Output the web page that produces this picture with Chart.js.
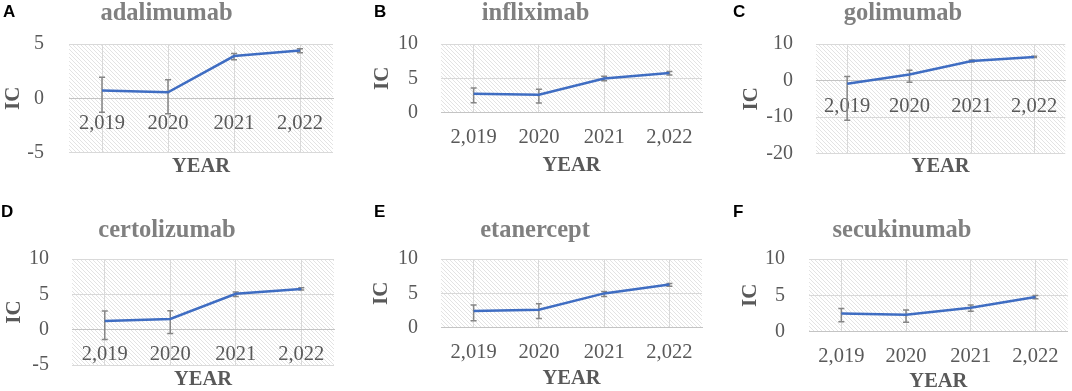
<!DOCTYPE html>
<html>
<head>
<meta charset="utf-8">
<title>IC by year</title>
<script src="https://cdn.jsdelivr.net/npm/chart.js@4.4.1/dist/chart.umd.min.js"></script>
<style>
  html, body { margin: 0; padding: 0; background: #fff; overflow: hidden; }
  #page { position: relative; width: 1072px; height: 391px; overflow: hidden; }
  #page canvas { position: absolute; }
  .letter { position: absolute; font: bold 17px/17px 'Liberation Sans', Arial, sans-serif; color: #000; }
</style>
</head>
<body>
<div id="page"></div>
<script>
// x labels as printed on the original figure
const years = ['2,019', '2020', '2021', '2,022'];

// IC per year, with the ends of each error bar
const adalimumabIC   = [0.72, 0.55, 3.89, 4.41];
const adalimumabHigh = [1.93, 1.70, 4.13, 4.56];
const adalimumabLow  = [-1.30, -1.42, 3.55, 4.19];

const infliximabIC   = [2.74, 2.60, 4.97, 5.75];
const infliximabHigh = [3.58, 3.38, 5.30, 6.00];
const infliximabLow  = [1.42, 1.40, 4.62, 5.46];

const golimumabIC   = [-0.90, 1.64, 5.36, 6.45];
const golimumabHigh = [1.10, 2.80, 5.60, 6.62];
const golimumabLow  = [-10.9, -0.45, 5.05, 6.28];

const certolizumabIC   = [1.24, 1.52, 5.07, 5.76];
const certolizumabHigh = [2.63, 2.67, 5.32, 5.92];
const certolizumabLow  = [-1.38, -0.55, 4.68, 5.60];

const etanerceptIC   = [2.42, 2.60, 4.98, 6.28];
const etanerceptHigh = [3.28, 3.48, 5.27, 6.42];
const etanerceptLow  = [0.97, 1.30, 4.52, 6.02];

const secukinumabIC   = [2.49, 2.30, 3.27, 4.75];
const secukinumabHigh = [3.18, 2.95, 3.64, 4.98];
const secukinumabLow  = [1.34, 1.29, 2.81, 4.52];

const SERIF = "'Liberation Serif', 'Times New Roman', serif";

// light downward-diagonal fill like the Excel plot area
const hatchTile = document.createElement('canvas');
hatchTile.width = 4;
hatchTile.height = 4;
(function () {
    const g = hatchTile.getContext('2d');
    g.fillStyle = '#ffffff';
    g.fillRect(0, 0, 4, 4);
    g.fillStyle = '#e3e3e3';
    for (let i = 0; i < 4; i++) g.fillRect(i, i, 1, 1);
})();

const hatchPlugin = {
    id: 'hatch',
    beforeDraw(chart) {
        const { ctx, chartArea: a } = chart;
        ctx.save();
        ctx.fillStyle = ctx.createPattern(hatchTile, 'repeat');
        ctx.fillRect(a.left, a.top, a.right - a.left, a.bottom - a.top);
        ctx.restore();
    }
};

// error bars, drawn under the line
const errorBarPlugin = {
    id: 'errorBars',
    beforeDatasetsDraw(chart) {
        const { ctx, scales } = chart;
        const ds = chart.data.datasets[0];
        ctx.save();
        ctx.strokeStyle = '#868686';
        ctx.lineWidth = 1.5;
        ds.data.forEach((v, i) => {
            const px = scales.x.getPixelForValue(i);
            const top = scales.y.getPixelForValue(ds.errHigh[i]);
            const bot = scales.y.getPixelForValue(ds.errLow[i]);
            ctx.beginPath();
            ctx.moveTo(px, top); ctx.lineTo(px, bot);
            ctx.moveTo(px - 3, top); ctx.lineTo(px + 3, top);
            ctx.moveTo(px - 3, bot); ctx.lineTo(px + 3, bot);
            ctx.stroke();
        });
        ctx.restore();
    }
};

// one entry per small chart: data plus where it sits
const panels = [
    { letter: 'A', name: 'adalimumab', values: adalimumabIC, high: adalimumabHigh, low: adalimumabLow,
      min: -5, max: 5, step: 5, x: 0, y: 0, w: 357, h: 195, padL: 0, padR: 24, yWidth: 69, yPad: 25,
      icPad: 3, titleTop: 1.5, titleBottom: 18, yearTop: 4, yearBottom: 18, xPad: 13, lx: 3, ly: 3 },
    { letter: 'B', name: 'infliximab', values: infliximabIC, high: infliximabHigh, low: infliximabLow,
      min: 0, max: 10, step: 5, x: 357, y: 0, w: 357, h: 195, padL: 12, padR: 12, yWidth: 72, yPad: 23,
      icPad: 3, titleTop: 1.5, titleBottom: 18, yearTop: 43, yearBottom: 19, xPad: 13, lx: 374, ly: 3 },
    { letter: 'C', name: 'golimumab', values: golimumabIC, high: golimumabHigh, low: golimumabLow,
      min: -20, max: 10, step: 10, x: 714, y: 0, w: 358, h: 195, padL: 20, padR: 0, yWidth: 82, yPad: 23,
      icPad: 7.5, titleTop: 1.5, titleBottom: 18, yearTop: 3, yearBottom: 18, xPad: 14, lx: 733, ly: 3 },
    { letter: 'D', name: 'certolizumab', values: certolizumabIC, high: certolizumabHigh, low: certolizumabLow,
      min: -5, max: 10, step: 5, x: 0, y: 195, w: 357, h: 205, padL: 0, padR: 23, yWidth: 72, yPad: 23,
      icPad: 4.5, titleTop: 23, titleBottom: 16.5, yearTop: 4.5, yearBottom: 7.5, xPad: 13, lx: 1, ly: 203 },
    { letter: 'E', name: 'etanercept', values: etanerceptIC, high: etanerceptHigh, low: etanerceptLow,
      min: 0, max: 10, step: 5, x: 357, y: 195, w: 357, h: 205, padL: 11, padR: 12, yWidth: 73, yPad: 23,
      icPad: 3.5, titleTop: 23, titleBottom: 16.5, yearTop: 41, yearBottom: 11, xPad: 13, lx: 374, ly: 203 },
    { letter: 'F', name: 'secukinumab', values: secukinumabIC, high: secukinumabHigh, low: secukinumabLow,
      min: 0, max: 10, step: 5, x: 714, y: 195, w: 358, h: 205, padL: 20, padR: 2, yWidth: 75, yPad: 24,
      icPad: 6.5, titleTop: 23, titleBottom: 16.5, yearTop: 40, yearBottom: 8, xPad: 13, lx: 733, ly: 203 }
];

const page = document.getElementById('page');

function drawPanel(p) {
    const canvas = document.createElement('canvas');
    canvas.width = p.w;
    canvas.height = p.h;
    canvas.style.left = p.x + 'px';
    canvas.style.top = p.y + 'px';
    page.appendChild(canvas);

    const letter = document.createElement('div');
    letter.className = 'letter';
    letter.textContent = p.letter;
    letter.style.left = p.lx + 'px';
    letter.style.top = p.ly + 'px';
    page.appendChild(letter);

    new Chart(canvas, {
        type: 'line',
        data: {
            labels: years,
            datasets: [{
                data: p.values,
                errHigh: p.high,
                errLow: p.low,
                xAxisID: 'x',
                yAxisID: 'y',
                borderColor: '#3f6dc2',
                borderWidth: 2.5,
                pointRadius: 0,
                tension: 0,
                fill: false
            }]
        },
        options: {
            responsive: false,
            animation: false,
            layout: { padding: { left: p.padL, right: p.padR, top: 0, bottom: 0 } },
            plugins: {
                legend: { display: false },
                tooltip: { enabled: false },
                title: {
                    display: true,
                    text: p.name,
                    color: '#808080',
                    font: { family: SERIF, size: 24.5, weight: 'bold', lineHeight: 1 },
                    padding: { top: p.titleTop, bottom: p.titleBottom }
                }
            },
            scales: {
                // category labels sit on the zero line, as in Excel
                x: {
                    type: 'category',
                    position: { y: 0 },
                    offset: true,
                    grid: { color: '#d9d9d9', drawTicks: false },
                    border: { color: '#c4c4c4' },
                    ticks: {
                        color: '#595959',
                        font: { family: SERIF, size: 20.5, lineHeight: 1.2 },
                        padding: p.xPad,
                        maxRotation: 0,
                        autoSkip: false
                    },
                    afterFit: s => { s.height = 0; }
                },
                // only carries the YEAR title under the plot
                x2: {
                    type: 'category',
                    position: 'bottom',
                    offset: true,
                    grid: { display: false },
                    border: { display: false },
                    ticks: { display: false },
                    title: {
                        display: true,
                        text: 'YEAR',
                        color: '#595959',
                        font: { family: SERIF, size: 20.5, weight: 'bold', lineHeight: 1 },
                        padding: { top: p.yearTop, bottom: p.yearBottom }
                    },
                    afterFit: s => { s.height = 20.5 + p.yearTop + p.yearBottom; }
                },
                y: {
                    min: p.min,
                    max: p.max,
                    ticks: {
                        stepSize: p.step,
                        color: '#595959',
                        font: { family: SERIF, size: 20, lineHeight: 1.2 },
                        padding: p.yPad
                    },
                    grid: { color: '#d9d9d9', drawTicks: false },
                    border: { display: false },
                    title: {
                        display: true,
                        text: 'IC',
                        color: '#595959',
                        font: { family: SERIF, size: 21, weight: 'bold', lineHeight: 1 },
                        padding: { top: p.icPad, bottom: 0 }
                    },
                    afterFit: s => { s.width = p.yWidth; }
                }
            }
        },
        plugins: [hatchPlugin, errorBarPlugin]
    });
}

panels.forEach(drawPanel);
</script>
</body>
</html>
